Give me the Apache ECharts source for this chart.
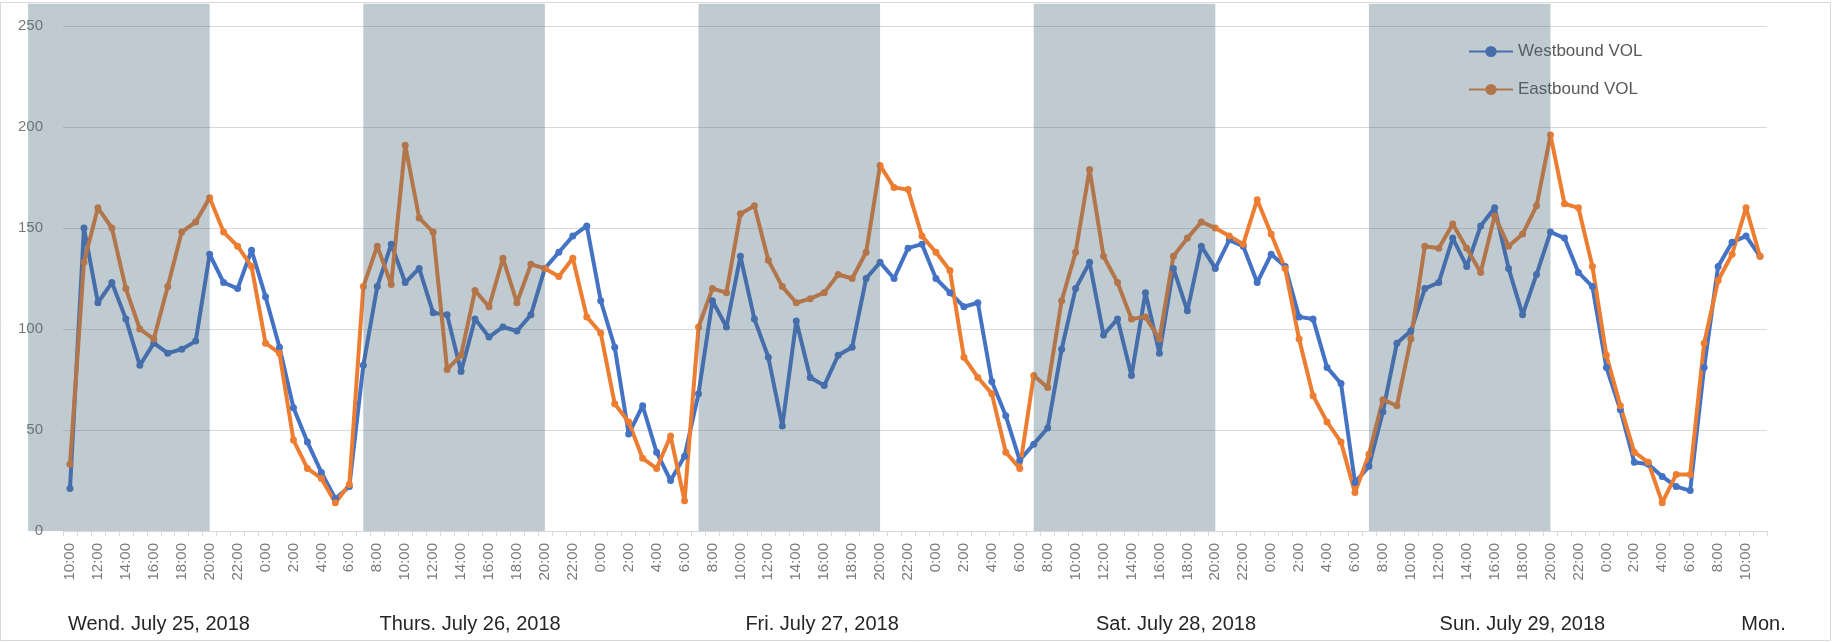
<!DOCTYPE html>
<html>
<head>
<meta charset="utf-8">
<title>Westbound / Eastbound VOL</title>
<script src="https://cdn.jsdelivr.net/npm/echarts@6/dist/echarts.min.js"></script>
<style>
  html, body { margin: 0; padding: 0; background: #fff; }
  #vol_graph { width: 1835px; height: 642px; }
</style>
</head>
<body>
<div id="vol_graph"></div>
<script>
// hourly counts, Wed 25 July 10:00 -> Mon 30 July 11:00
let westbound = [
  21, 150, 113, 123, 105, 82, 93, 88, 90, 94, 137, 123, 120, 139, 116, 91, 61, 44, 29, 16, 22, 82, 121, 142,
  123, 130, 108, 107, 79, 105, 96, 101, 99, 107, 130, 138, 146, 151, 114, 91, 48, 62, 39, 25, 37, 68, 114, 101,
  136, 105, 86, 52, 104, 76, 72, 87, 91, 125, 133, 125, 140, 142, 125, 118, 111, 113, 74, 57, 35, 43, 51, 90,
  120, 133, 97, 105, 77, 118, 88, 130, 109, 141, 130, 144, 141, 123, 137, 131, 106, 105, 81, 73, 24, 32, 59, 93,
  99, 120, 123, 145, 131, 151, 160, 130, 107, 127, 148, 145, 128, 121, 81, 60, 34, 33, 27, 22, 20, 81, 131, 143,
  146, 136
];
let eastbound = [
  33, 133, 160, 150, 120, 100, 95, 121, 148, 153, 165, 148, 141, 131, 93, 88, 45, 31, 26, 14, 23, 121, 141, 122,
  191, 155, 148, 80, 87, 119, 111, 135, 113, 132, 130, 126, 135, 106, 98, 63, 54, 36, 31, 47, 15, 101, 120, 118,
  157, 161, 134, 121, 113, 115, 118, 127, 125, 138, 181, 170, 169, 146, 138, 129, 86, 76, 68, 39, 31, 77, 71, 114,
  138, 179, 136, 123, 105, 106, 95, 136, 145, 153, 150, 146, 142, 164, 147, 130, 95, 67, 54, 44, 19, 38, 65, 62,
  95, 141, 140, 152, 140, 128, 156, 141, 147, 161, 196, 162, 160, 131, 87, 62, 39, 34, 14, 28, 28, 93, 124, 137,
  160, 136
];

let hourLabels = [
  '0:00', '1:00', '2:00', '3:00', '4:00', '5:00', '6:00', '7:00', '8:00', '9:00', '10:00', '11:00',
  '12:00', '13:00', '14:00', '15:00', '16:00', '17:00', '18:00', '19:00', '20:00', '21:00', '22:00', '23:00'
];
let firstHour = 10;

// daytime shading, hours counted from the first point (Wed 10:00)
let bandStart = [-3, 21, 45, 69, 93];
let bandEnd = [10, 34, 58, 82, 106];

let dayLabels = ['Wend. July 25, 2018', 'Thurs. July 26, 2018', 'Fri. July 27, 2018',
  'Sat. July 28, 2018', 'Sun. July 29, 2018', 'Mon.'];
let dayLabelAt = [0, 22.3, 48.5, 73.6, 98.2, 119.8];

let yTicks = [0, 50, 100, 150, 200, 250];

let X = westbound.map(function (v, i) {
  return hourLabels[(firstHour + i) % 24];
});
let bands = bandStart.map(function (s, i) {
  return [s, bandEnd[i]];
});

let bandTop = 261; // shading runs a bit above the 250 line

let chart = echarts.init(document.getElementById('vol_graph'));

let option = {
  animation: false,
  textStyle: { fontFamily: 'Liberation Sans' },
  grid: { left: 63, right: 68, top: 26, bottom: 111 },
  legend: {
    orient: 'vertical',
    left: 1463,
    top: 38,
    itemWidth: 44,
    itemHeight: 14,
    itemGap: 21,
    data: ['Westbound VOL', 'Eastbound VOL'],
    textStyle: { color: '#595959', fontSize: 17 }
  },
  xAxis: [
    {
      type: 'category',
      data: X,
      boundaryGap: true,
      axisLine: { lineStyle: { color: '#d9d9d9', width: 1 } },
      axisTick: { show: true, interval: 0, length: 5, lineStyle: { color: '#d9d9d9' } },
      axisLabel: { interval: 1, rotate: 90, margin: 12, color: '#7a7a7a', fontSize: 15 },
      splitLine: { show: false }
    },
    {
      type: 'value',
      position: 'top',
      min: -0.5,
      max: X.length - 0.5,
      show: false
    }
  ],
  yAxis: {
    type: 'value',
    min: yTicks[0],
    max: yTicks[yTicks.length - 1],
    interval: 50,
    axisLine: { show: false },
    axisTick: { show: false },
    axisLabel: { margin: 20, color: '#7a7a7a', fontSize: 15 },
    splitLine: { lineStyle: { color: '#d9d9d9', width: 1 } }
  },
  series: [
    {
      name: 'Westbound VOL',
      type: 'line',
      data: westbound,
      color: '#4472c4',
      symbol: 'circle',
      symbolSize: 7,
      lineStyle: { width: 4 }
    },
    {
      name: 'Eastbound VOL',
      type: 'line',
      data: eastbound,
      color: '#ed7d31',
      symbol: 'circle',
      symbolSize: 7,
      lineStyle: { width: 4 }
    },
    {
      name: 'daytime',
      type: 'custom',
      xAxisIndex: 1,
      yAxisIndex: 0,
      data: bands,
      clip: false,
      silent: true,
      z: 10,
      renderItem: function (params, api) {
        let p0 = api.coord([api.value(0), bandTop]);
        let p1 = api.coord([api.value(1), 0]);
        return {
          type: 'rect',
          shape: { x: p0[0], y: p0[1], width: p1[0] - p0[0], height: p1[1] - p0[1] },
          style: { fill: 'rgba(72,104,124,0.35)' }
        };
      }
    }
  ]
};
chart.setOption(option);

// day captions under the hour labels
let captions = dayLabels.map(function (t, i) {
  let x = chart.convertToPixel({ xAxisIndex: 1 }, dayLabelAt[i]);
  return {
    type: 'text',
    left: x - 2,
    top: 614,
    style: { text: t, fill: '#262626', fontSize: 20, fontFamily: 'Liberation Sans' }
  };
});
captions.push({
  type: 'rect',
  shape: { x: 0.5, y: 2.5, width: 1830, height: 638 },
  style: { fill: 'none', stroke: '#d9d9d9', lineWidth: 1 },
  z: -10,
  silent: true
});
chart.setOption({ graphic: captions });
</script>
</body>
</html>
